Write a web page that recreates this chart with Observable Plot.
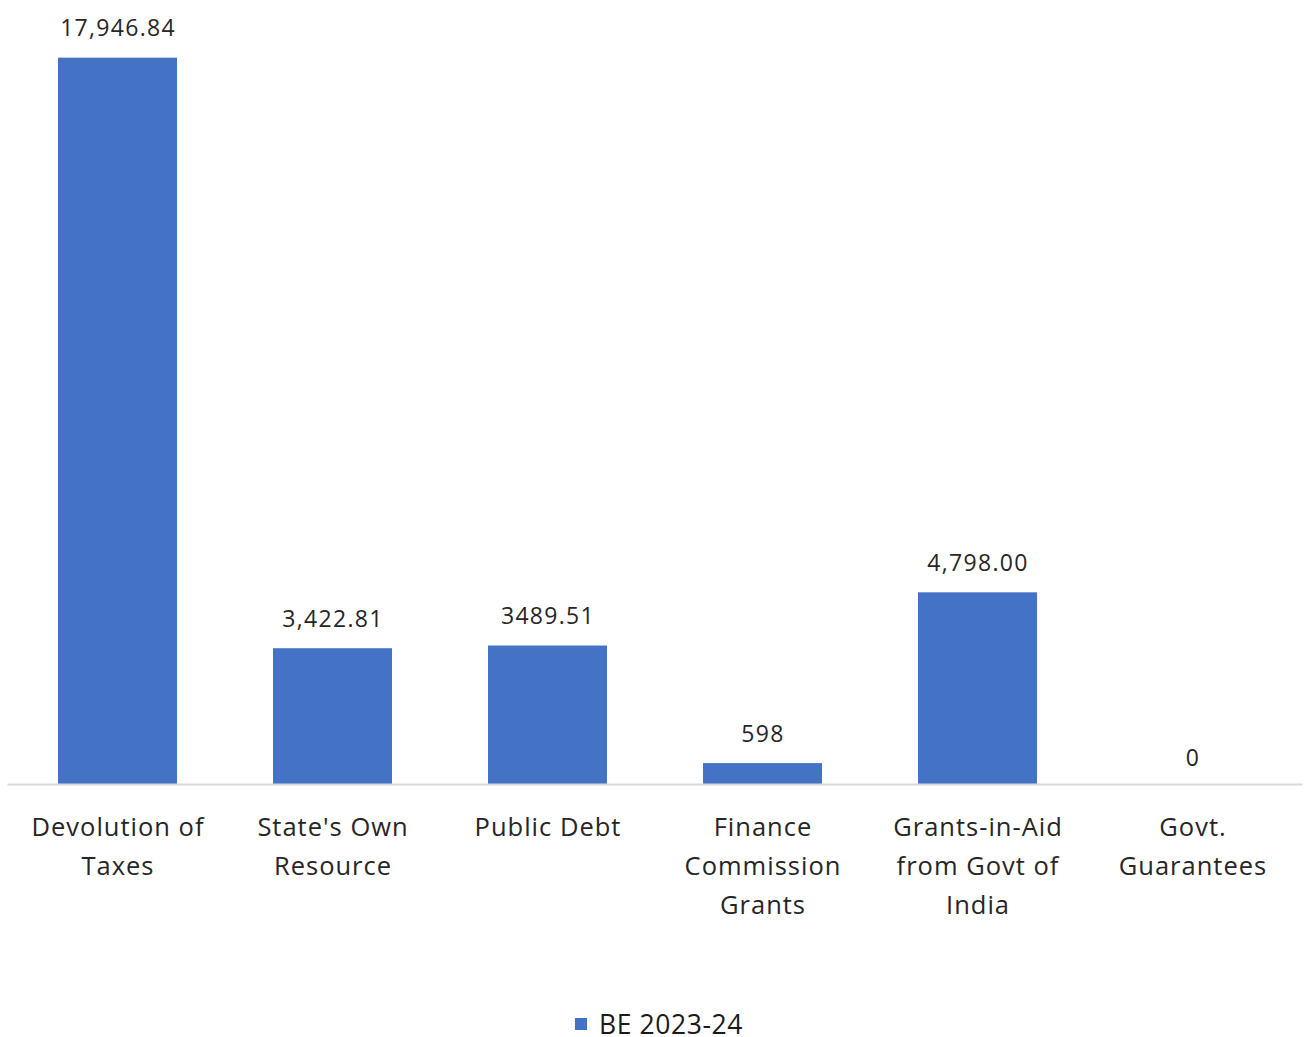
<!DOCTYPE html>
<html>
<head>
<meta charset="utf-8">
<script src="https://cdn.jsdelivr.net/npm/d3@7"></script>
<script src="https://cdn.jsdelivr.net/npm/@observablehq/plot@0.6"></script>
<style>
  html, body { margin: 0; padding: 0; background: #fff; }
  #wrap { position: relative; width: 1306px; height: 1037px; }
  #legend { position: absolute; left: 0; top: 1011px; height: 26px; width: 1306px; box-sizing: border-box; padding-left: 8px; display: flex; justify-content: center; align-items: center; font-family: "Open Sans", sans-serif; font-size: 26.5px; letter-spacing: 0.6px; color: #1a1a1a; }
  #legend .sw { width: 12px; height: 12px; background: #4472C4; margin-right: 12px; margin-left: 4px; }
  #legend-text { display: inline-block; line-height: 26px; height: 26px; }
  svg [aria-label="x-axis tick label"] text { letter-spacing: 1px; }
  svg [aria-label="text"] text { letter-spacing: 1.3px; }
</style>
</head>
<body>
<div id="wrap">
  <div id="chart"></div>
  <div id="legend"><span class="sw"></span><span id="legend-text"></span></div>
</div>
<script>
const categories = [
  "Devolution of\nTaxes",
  "State's Own\nResource",
  "Public Debt",
  "Finance\nCommission\nGrants",
  "Grants-in-Aid\nfrom Govt of\nIndia",
  "Govt.\nGuarantees"
];
const values = [17946.84, 3422.81, 3489.51, 598, 4798.00, 0];
const valueLabels = ["17,946.84", "3,422.81", "3489.51", "598", "4,798.00", "0"];
const seriesName = "BE 2023-24";

const data = categories.map((c, i) => ({category: c, value: values[i], label: valueLabels[i]}));

const W = 1306, H = 1000;
const chart = Plot.plot({
  width: W,
  height: H,
  marginLeft: 8,
  marginRight: 5,
  marginTop: 0,
  marginBottom: 216,
  style: {fontFamily: "'Open Sans', sans-serif", background: "#fff"},
  x: {domain: categories, paddingInner: 0.448, paddingOuter: 0.224, label: null},
  y: {domain: [0, 18000], range: [787.4, 55.5], axis: null},
  marks: [
    Plot.barY(data, {x: "category", y: "value", fill: "#4472C4", clip: true}),
    Plot.frame({anchor: "bottom", stroke: "#d9d9d9", strokeWidth: 2}),
    Plot.text(data, {x: "category", y: "value", text: "label", dy: -22, lineAnchor: "bottom", fontSize: 23, fill: "#262626"}),
    Plot.axisX({tickSize: 0, tickPadding: 24, fontSize: 25.5, lineHeight: 1.53, fill: "#262626", label: null})
  ]
});
document.getElementById("chart").appendChild(chart);
document.getElementById("legend-text").textContent = seriesName;
</script>
</body>
</html>
